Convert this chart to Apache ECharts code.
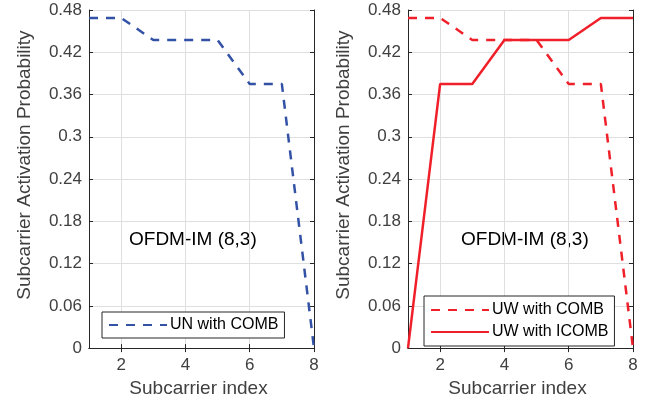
<!DOCTYPE html>
<html><head><meta charset="utf-8">
<script src="https://cdn.jsdelivr.net/npm/echarts@6/dist/echarts.min.js"></script>
<style>html,body{margin:0;padding:0;background:#fff}#c{width:646px;height:403px}</style>
</head><body><div id="c"></div>
<script>
var subcarrier = [1, 2, 3, 4, 5, 6, 7, 8];
var unComb   = [0.46875, 0.46875, 0.4375, 0.4375, 0.4375, 0.375, 0.375, 0];
var uwComb   = [0.46875, 0.46875, 0.4375, 0.4375, 0.4375, 0.375, 0.375, 0];
var uwIcomb  = [0, 0.375, 0.375, 0.4375, 0.4375, 0.4375, 0.46875, 0.46875];
var xTicks = [2, 4, 6, 8];
var yTicks = [0, 0.06, 0.12, 0.18, 0.24, 0.3, 0.36, 0.42, 0.48];
var annotation = 'OFDM-IM (8,3)';

var FONT = 'Liberation Sans';
var AX = '#262626', LAB = '#404040', GRID = '#dfdfdf';
function pairs(v){ return subcarrier.map(function(x,i){ return [x, v[i]]; }); }

function xAxes(gi){
  return [{
    type:'value', gridIndex:gi, min:1, max:8, position:'bottom',
    name:'Subcarrier index', nameLocation:'middle', nameGap:28,
    nameTextStyle:{fontFamily:FONT, fontSize:19, color:LAB, padding:[0,6,0,0]},
    axisLine:{show:true, onZero:false, lineStyle:{color:AX, width:1}},
    axisTick:{show:true, inside:true, length:4, customValues:xTicks, lineStyle:{color:AX}},
    axisLabel:{customValues:xTicks, fontFamily:FONT, fontSize:17, color:LAB, margin:9},
    splitLine:{show:true, lineStyle:{color:GRID, width:1}}
  },{
    type:'value', gridIndex:gi, min:1, max:8, position:'top',
    axisLine:{show:true, lineStyle:{color:AX, width:1}},
    axisTick:{show:true, inside:true, length:4, customValues:xTicks, lineStyle:{color:AX}},
    axisLabel:{show:false}, splitLine:{show:false}
  }];
}
function yAxes(gi){
  return [{
    type:'value', gridIndex:gi, min:0, max:0.48, interval:0.06, position:'left',
    name:'Subcarrier Activation Probability', nameLocation:'middle', nameGap:55,
    nameTextStyle:{fontFamily:FONT, fontSize:19, color:LAB, padding:[0,0,0,28]},
    axisLine:{show:true, lineStyle:{color:AX, width:1}},
    axisTick:{show:true, inside:true, length:4, lineStyle:{color:AX}},
    axisLabel:{fontFamily:FONT, fontSize:17, color:LAB, margin:7,
      formatter:function(v){ return String(Number(v.toFixed(2))); }},
    splitLine:{show:true, lineStyle:{color:GRID, width:1}}
  },{
    type:'value', gridIndex:gi, min:0, max:0.48, interval:0.06, position:'right',
    axisLine:{show:true, lineStyle:{color:AX, width:1}},
    axisTick:{show:true, inside:true, length:4, lineStyle:{color:AX}},
    axisLabel:{show:false}, splitLine:{show:false}
  }];
}

var BLUE = '#3352a6', RED = '#f0202a';
var chart = echarts.init(document.getElementById('c'), null, {renderer:'canvas'});
chart.setOption({
  animation:false,
  backgroundColor:'#fff',
  grid:[
    {left:89, top:10, width:225, height:340},
    {left:408, top:10, width:225, height:340}
  ],
  xAxis: xAxes(0).concat(xAxes(1)),
  yAxis: yAxes(0).concat(yAxes(1)),
  legend:[
    {data:['UN with COMB'], left:102, top:312, orient:'vertical',
     backgroundColor:'#fff', borderColor:AX, borderWidth:1, padding:[5,6,5,6],
     itemWidth:58, itemHeight:14, itemGap:6, itemStyle:{opacity:0},
     textStyle:{fontFamily:FONT, fontSize:16, color:'#000', padding:[0,0,0,-2]}},
    {data:['UW with COMB','UW with ICOMB'], left:424, top:296, orient:'vertical',
     backgroundColor:'#fff', borderColor:AX, borderWidth:1, padding:[6,6,6,6],
     itemWidth:58, itemHeight:14, itemGap:6, itemStyle:{opacity:0},
     textStyle:{fontFamily:FONT, fontSize:16, color:'#000', padding:[0,0,0,-2]}}
  ],
  graphic:[
    {type:'text', left:129, top:230, style:{text:annotation, fontFamily:FONT, fontSize:19, fill:'#000'}},
    {type:'text', left:461, top:230, style:{text:annotation, fontFamily:FONT, fontSize:19, fill:'#000'}}
  ],
  series:[
    {name:'UN with COMB', type:'line', xAxisIndex:0, yAxisIndex:0, data:pairs(unComb),
     symbol:'none', color:BLUE, lineStyle:{color:BLUE, width:2.5, type:[9,8]}},
    {name:'UW with COMB', type:'line', xAxisIndex:2, yAxisIndex:2, data:pairs(uwComb),
     symbol:'none', color:RED, lineStyle:{color:RED, width:2.5, type:[9,8]}},
    {name:'UW with ICOMB', type:'line', xAxisIndex:2, yAxisIndex:2, data:pairs(uwIcomb),
     symbol:'none', color:RED, lineStyle:{color:RED, width:2.5}}
  ]
});
</script></body></html>
